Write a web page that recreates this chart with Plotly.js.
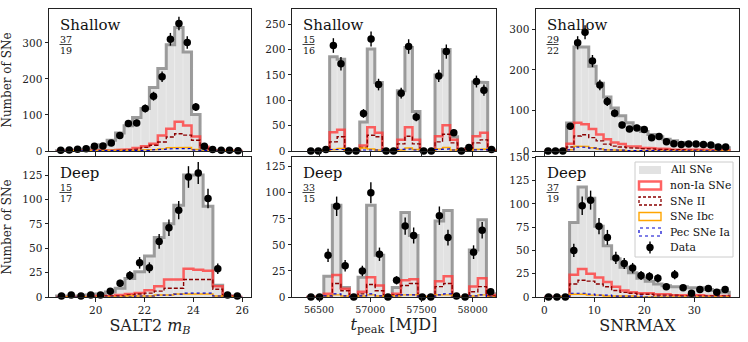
<!DOCTYPE html>
<html>
<head>
<meta charset="utf-8">
<script src="https://cdn.plot.ly/plotly-3.0.1.min.js"></script>
<style>
  html, body { margin: 0; padding: 0; background: #fff; }
  #chart { width: 748px; height: 342px; }
</style>
</head>
<body>
<div id="chart"></div>
<script>
// ---- SALT2 mB, shallow ----
var mbShallowX = [18.57, 18.92, 19.26, 19.61, 19.95, 20.30, 20.64, 20.99, 21.34, 21.68, 22.03, 22.37, 22.72, 23.06, 23.41, 23.75, 24.10, 24.45, 24.79, 25.14, 25.48, 25.83]
var mbShallowAll = [1, 2, 3, 5, 8, 17, 30, 50, 70, 93, 118, 176, 229, 295, 343, 275, 101, 5, 1, 0, 0, 0]
var mbShallowNonIa = [0, 0, 0, 0, 1, 1, 2, 3, 5, 8, 13, 20, 43, 62, 81, 71, 40, 12, 2, 0, 0, 0]
var mbShallowII = [0, 0, 0, 0, 1, 1, 1, 2, 3, 5, 10, 16, 25, 39, 48, 44, 30, 8, 1, 0, 0, 0]
var mbShallowIbc = [0, 0, 0, 0, 0, 0, 0, 1, 1, 2, 3, 4, 6, 9, 11, 10, 4, 1, 0, 0, 0, 0]
var mbShallowPec = [0, 0, 0, 0, 0, 0, 0, 0, 1, 1, 2, 3, 5, 6, 7, 7, 3, 1, 0, 0, 0, 0]
var mbShallowData = [2, 3, 5, 6, 13, 14, 22, 43, 76, 78, 118, 152, 206, 310, 354, 301, 122, 13, 4, 2, 2, 1]

// ---- SALT2 mB, deep ----
var mbDeepX = [18.6, 19.0, 19.4, 19.8, 20.2, 20.6, 21.0, 21.4, 21.8, 22.2, 22.6, 23.0, 23.4, 23.8, 24.2, 24.6, 25.0, 25.4, 25.8]
var mbDeepAll = [1, 1, 1, 2, 3, 5, 9, 19, 26, 42, 61, 75, 94, 125, 125, 93, 12, 1, 0]
var mbDeepNonIa = [0, 0, 0, 0, 1, 1, 2, 3, 4, 7, 11, 18, 18, 29, 28, 27, 11, 1, 0]
var mbDeepII = [0, 0, 0, 0, 0, 1, 1, 2, 3, 4, 6, 9, 9, 18, 18, 18, 8, 1, 0]
var mbDeepIbc = [0, 0, 0, 0, 0, 0, 0, 1, 1, 1, 2, 2, 3, 3, 3, 3, 1, 0, 0]
var mbDeepPec = [0, 0, 0, 0, 0, 0, 0, 0, 1, 1, 2, 2, 3, 4, 4, 4, 1, 0, 0]
var mbDeepData = [1, 2, 1, 2, 2, 6, 14, 22, 35, 30, 57, 71, 89, 123, 127, 101, 29, 2, 1]

// ---- t_peak, shallow ----
var tpShallowX = [56420, 56493, 56567, 56640, 56714, 56787, 56861, 56934, 57008, 57081, 57155, 57228, 57302, 57375, 57449, 57522, 57596, 57669, 57743, 57816, 57890, 57963, 58037, 58110, 58184]
var tpShallowAll = [0, 0, 0, 186, 181, 0, 0, 57, 201, 135, 0, 0, 119, 204, 78, 0, 0, 150, 200, 28, 0, 5, 136, 135, 2]
var tpShallowNonIa = [0, 0, 0, 37, 42, 0, 0, 11, 47, 36, 0, 0, 22, 47, 22, 0, 0, 29, 51, 22, 0, 4, 29, 36, 1]
var tpShallowII = [0, 0, 0, 18, 28, 0, 0, 7, 31, 28, 0, 0, 14, 29, 14, 0, 0, 18, 33, 16, 0, 2, 16, 22, 1]
var tpShallowIbc = [0, 0, 0, 3, 5, 0, 0, 6, 4, 2, 0, 0, 2, 6, 3, 0, 0, 4, 7, 2, 0, 0, 3, 4, 0]
var tpShallowPec = [0, 0, 0, 3, 3, 0, 0, 2, 3, 2, 0, 0, 3, 4, 2, 0, 0, 3, 4, 2, 0, 0, 2, 3, 0]
var tpShallowData = [0, 0, 3, 208, 172, 0, 0, 74, 221, 131, 0, 0, 114, 206, 67, 0, 0, 148, 196, 36, 0, 7, 137, 120, 3]

// ---- t_peak, deep ----
var tpDeepX = [56421, 56505, 56588, 56672, 56755, 56839, 56923, 57006, 57090, 57173, 57257, 57341, 57424, 57508, 57591, 57675, 57759, 57842, 57926, 58009, 58093, 58176]
var tpDeepAll = [0, 0, 20, 88, 9, 0, 19, 88, 40, 0, 9, 81, 59, 0, 0, 73, 83, 0, 0, 45, 74, 3]
var tpDeepNonIa = [0, 0, 3, 21, 8, 0, 5, 19, 11, 0, 3, 16, 17, 0, 0, 15, 20, 0, 0, 10, 18, 2]
var tpDeepII = [0, 0, 1, 13, 6, 0, 3, 12, 6, 0, 2, 11, 13, 0, 0, 10, 13, 0, 0, 5, 10, 1]
var tpDeepIbc = [0, 0, 1, 2, 1, 0, 1, 2, 1, 0, 1, 2, 2, 0, 0, 2, 2, 0, 0, 1, 2, 0]
var tpDeepPec = [0, 0, 1, 3, 1, 0, 1, 3, 1, 0, 1, 2, 2, 0, 0, 2, 3, 0, 0, 1, 2, 0]
var tpDeepData = [0, 0, 40, 87, 30, 0, 25, 100, 41, 0, 16, 68, 59, 0, 0, 78, 57, 1, 0, 43, 64, 5]

// ---- SNRMAX, shallow ----
var snrShallowX = [0.74, 2.22, 3.70, 5.18, 6.66, 8.14, 9.62, 11.10, 12.58, 14.06, 15.54, 17.02, 18.50, 19.98, 21.46, 22.94, 24.42, 25.90, 27.38, 28.86, 30.34, 31.82, 33.30, 34.78, 36.26]
var snrShallowAll = [0, 0, 2, 69, 257, 257, 209, 167, 133, 106, 87, 70, 58, 48, 41, 35, 29, 25, 21, 18, 17, 15, 14, 10, 8]
var snrShallowNonIa = [0, 0, 0, 18, 70, 66, 54, 41, 29, 21, 17, 12, 11, 8, 7, 6, 5, 4, 4, 3, 3, 3, 2, 2, 2]
var snrShallowII = [0, 0, 0, 10, 37, 40, 33, 25, 17, 12, 10, 8, 7, 6, 5, 4, 4, 3, 3, 2, 2, 2, 1, 1, 1]
var snrShallowIbc = [0, 0, 0, 3, 12, 11, 8, 5, 3, 2, 2, 1, 1, 1, 1, 1, 0, 0, 0, 0, 0, 0, 0, 0, 0]
var snrShallowPec = [0, 0, 0, 3, 10, 9, 7, 5, 3, 2, 2, 1, 1, 1, 1, 1, 1, 0, 0, 0, 0, 0, 0, 0, 0]
var snrShallowData = [0, 0, 0, 61, 267, 293, 222, 163, 122, 93, 64, 54, 57, 53, 33, 36, 23, 18, 16, 17, 17, 16, 15, 10, 10]

// ---- SNRMAX, deep ----
var snrDeepX = [0.84, 2.52, 4.20, 5.89, 7.57, 9.25, 10.93, 12.61, 14.30, 15.98, 17.66, 19.34, 21.02, 22.70, 24.39, 26.07, 27.75, 29.43, 31.11, 32.80, 34.48, 36.16]
var snrDeepAll = [0, 0, 0, 80, 118, 106, 76, 55, 41, 32, 26, 20, 17, 14, 12, 11, 11, 10, 10, 8, 7, 5]
var snrDeepNonIa = [0, 0, 0, 24, 30, 25, 21, 16, 11, 7, 5, 4, 4, 3, 3, 2, 2, 2, 2, 1, 1, 1]
var snrDeepII = [0, 0, 0, 14, 18, 17, 14, 11, 7, 5, 4, 3, 3, 2, 2, 2, 1, 1, 1, 1, 1, 1]
var snrDeepIbc = [0, 0, 0, 3, 3, 2, 2, 1, 1, 1, 1, 0, 0, 0, 0, 0, 0, 0, 0, 0, 0, 0]
var snrDeepPec = [0, 0, 0, 4, 4, 3, 2, 2, 1, 1, 1, 1, 0, 0, 0, 0, 0, 0, 0, 0, 0, 0]
var snrDeepData = [0, 0, 0, 50, 98, 104, 76, 64, 42, 36, 31, 23, 22, 20, 11, 24, 10, 4, 8, 9, 5, 8]

// panel labels
var panelNames = ['Shallow', 'Deep', 'Shallow', 'Deep', 'Shallow', 'Deep']
var fracNum = ['37', '15', '15', '33', '29', '37']
var fracDen = ['19', '17', '16', '15', '22', '19']
var legendNames = ['All SNe', 'non-Ia SNe', 'SNe II', 'SNe Ibc', 'Pec SNe Ia', 'Data']

var FONT = 'DejaVu Serif, Liberation Serif, serif'
var W = 748, H = 342
function px (x) { return x / W }
function py (y) { return 1 - y / H }

// panel frames in pixels
var colLeft = [49, 292, 536]
var colRight = [251, 496, 739]
var rowTop = [9, 157]
var rowBottom = [151, 297]

function edgesOf (c) {
  var e = []
  for (var i = 0; i < c.length - 1; i++) e.push((c[i] + c[i + 1]) / 2)
  var first = c[0] - (e[0] - c[0])
  var last = c[c.length - 1] + (c[c.length - 1] - e[e.length - 1])
  return [first].concat(e, [last])
}
function stepXY (c, v) {
  var e = edgesOf(c)
  var x = [e[0]], y = [0]
  for (var i = 0; i < v.length; i++) {
    x.push(e[i], e[i + 1])
    y.push(v[i], v[i])
  }
  x.push(e[e.length - 1]); y.push(0)
  return { x: x, y: y }
}

var panels = [
  { xa: 'x', ya: 'y', c: mbShallowX, all: mbShallowAll, nonIa: mbShallowNonIa, ii: mbShallowII, ibc: mbShallowIbc, pec: mbShallowPec, data: mbShallowData },
  { xa: 'x2', ya: 'y2', c: mbDeepX, all: mbDeepAll, nonIa: mbDeepNonIa, ii: mbDeepII, ibc: mbDeepIbc, pec: mbDeepPec, data: mbDeepData },
  { xa: 'x3', ya: 'y3', c: tpShallowX, all: tpShallowAll, nonIa: tpShallowNonIa, ii: tpShallowII, ibc: tpShallowIbc, pec: tpShallowPec, data: tpShallowData },
  { xa: 'x4', ya: 'y4', c: tpDeepX, all: tpDeepAll, nonIa: tpDeepNonIa, ii: tpDeepII, ibc: tpDeepIbc, pec: tpDeepPec, data: tpDeepData },
  { xa: 'x5', ya: 'y5', c: snrShallowX, all: snrShallowAll, nonIa: snrShallowNonIa, ii: snrShallowII, ibc: snrShallowIbc, pec: snrShallowPec, data: snrShallowData },
  { xa: 'x6', ya: 'y6', c: snrDeepX, all: snrDeepAll, nonIa: snrDeepNonIa, ii: snrDeepII, ibc: snrDeepIbc, pec: snrDeepPec, data: snrDeepData }
]

var styles = {
  all: { color: 'rgba(140,140,140,0.85)', width: 3 },
  nonIa: { color: 'rgba(255,60,60,0.8)', width: 2.5 },
  ii: { color: '#8b0000', width: 1.4, dash: '4px,2px' },
  ibc: { color: '#ffa500', width: 1.4 },
  pec: { color: '#0000cd', width: 1.2, dash: 'dot' }
}

var data = []
panels.forEach(function (p) {
  var e = edgesOf(p.c)
  var widths = p.c.map(function (_, i) { return e[i + 1] - e[i] })
  data.push({
    type: 'bar', x: p.c, y: p.all, width: widths, xaxis: p.xa, yaxis: p.ya,
    marker: { color: '#e2e2e2', line: { color: '#ececec', width: 0.6 } },
    showlegend: false, hoverinfo: 'skip'
  })
  ;['all', 'nonIa', 'ii', 'ibc', 'pec'].forEach(function (k) {
    var s = stepXY(p.c, p[k])
    data.push({
      type: 'scatter', mode: 'lines', x: s.x, y: s.y, xaxis: p.xa, yaxis: p.ya,
      line: styles[k], showlegend: false, hoverinfo: 'skip'
    })
  })
  data.push({
    type: 'scatter', mode: 'markers', x: p.c, y: p.data, xaxis: p.xa, yaxis: p.ya,
    marker: { color: 'black', size: 7.5 },
    error_y: { type: 'sqrt', color: 'black', thickness: 1.4, width: 0 },
    cliponaxis: false, showlegend: false
  })
})

function axisBase () {
  return {
    showline: true, mirror: true, linecolor: '#222', linewidth: 1,
    ticks: 'outside', ticklen: 3.5, tickwidth: 1, tickcolor: '#222',
    showgrid: false, zeroline: false, automargin: false,
    tickformat: 'd',
    tickfont: { family: FONT, size: 10.5, color: '#222' }
  }
}
function xAxis (col, row, range, tickvals, title, tickSize) {
  var a = axisBase()
  a.domain = [px(colLeft[col]), px(colRight[col])]
  a.range = range
  a.tickvals = tickvals
  a.anchor = 'y' + (col * 2 + row + 1 === 1 ? '' : col * 2 + row + 1)
  if (row === 0) a.showticklabels = false
  else {
    a.title = { text: title, font: { family: FONT, size: 16, color: '#222' }, standoff: 4 }
    if (tickSize) a.tickfont.size = tickSize
  }
  return a
}
function yAxis (col, row, range, dtick, showTitle) {
  var a = axisBase()
  a.domain = [py(rowBottom[row]), py(rowTop[row])]
  a.range = range
  a.dtick = dtick
  a.anchor = 'x' + (col * 2 + row + 1 === 1 ? '' : col * 2 + row + 1)
  if (showTitle) a.title = { text: 'Number of SNe', font: { family: FONT, size: 12, color: '#222' }, standoff: 8 }
  return a
}

var mbTicks = [20, 22, 24, 26]
var tpTicks = [56500, 57000, 57500, 58000]
var snrTicks = [0, 10, 20, 30]
var mbTitle = 'SALT2 <i>m</i><sub><i>B</i></sub>'
var tpTitle = '<i>t</i><sub>peak</sub> [MJD]'
var snrTitle = 'SNRMAX'

var annotations = []
var shapes = []
for (var i = 0; i < 6; i++) {
  var col = Math.floor(i / 2), row = i % 2
  var L = colLeft[col], T = rowTop[row]
  annotations.push({
    xref: 'paper', yref: 'paper', x: px(L + 9), y: py(T + 15.5), xanchor: 'left', yanchor: 'middle',
    text: panelNames[i], showarrow: false, font: { family: FONT, size: 15, color: '#111' }
  })
  annotations.push({
    xref: 'paper', yref: 'paper', x: px(L + 16.5), y: py(T + 30), xanchor: 'center', yanchor: 'middle',
    text: fracNum[i], showarrow: false, font: { family: FONT, size: 9.5, color: '#111' }
  })
  annotations.push({
    xref: 'paper', yref: 'paper', x: px(L + 16.5), y: py(T + 41.5), xanchor: 'center', yanchor: 'middle',
    text: fracDen[i], showarrow: false, font: { family: FONT, size: 9.5, color: '#111' }
  })
  shapes.push({
    type: 'line', xref: 'paper', yref: 'paper', x0: px(L + 10.5), x1: px(L + 22.5),
    y0: py(T + 35.5), y1: py(T + 35.5), line: { color: '#111', width: 0.8 }
  })
}

// legend box (bottom-right panel)
shapes.push({
  type: 'rect', xref: 'paper', yref: 'paper', layer: 'above',
  x0: px(635), x1: px(733), y0: py(257), y1: py(162),
  fillcolor: 'rgba(255,255,255,0.85)', line: { color: '#cccccc', width: 1 }
})
var rowY = [170, 185.5, 201, 216.5, 232, 247.5]
var symStyles = [
  { fillcolor: '#e2e2e2', line: { width: 0 } },
  { fillcolor: 'rgba(0,0,0,0)', line: styles.nonIa },
  { fillcolor: 'rgba(0,0,0,0)', line: { color: '#8b0000', width: 1.3, dash: '3px,2px' } },
  { fillcolor: 'rgba(0,0,0,0)', line: styles.ibc },
  { fillcolor: 'rgba(0,0,0,0)', line: { color: '#0000cd', width: 1.2, dash: 'dot' } }
]
for (var j = 0; j < 6; j++) {
  if (j < 5) {
    shapes.push({
      type: 'rect', xref: 'paper', yref: 'paper', layer: 'above',
      x0: px(639), x1: px(661), y0: py(rowY[j] + 4), y1: py(rowY[j] - 4),
      fillcolor: symStyles[j].fillcolor, line: symStyles[j].line
    })
  } else {
    shapes.push({
      type: 'line', xref: 'paper', yref: 'paper', layer: 'above',
      x0: px(650), x1: px(650), y0: py(rowY[j] + 6), y1: py(rowY[j] - 6),
      line: { color: 'black', width: 1.4 }
    })
    shapes.push({
      type: 'circle', xref: 'paper', yref: 'paper', layer: 'above',
      x0: px(646.3), x1: px(653.7), y0: py(rowY[j] + 3.7), y1: py(rowY[j] - 3.7),
      fillcolor: 'black', line: { color: 'black', width: 0 }
    })
  }
  annotations.push({
    xref: 'paper', yref: 'paper', x: px(668), y: py(rowY[j]), xanchor: 'left', yanchor: 'middle',
    text: legendNames[j], showarrow: false, font: { family: FONT, size: 10.8, color: '#111' }
  })
}

var layout = {
  width: W, height: H,
  margin: { l: 0, r: 0, t: 0, b: 0 },
  paper_bgcolor: 'white', plot_bgcolor: 'white',
  font: { family: FONT, color: '#222' },
  barmode: 'overlay', bargap: 0,
  showlegend: false,
  xaxis: xAxis(0, 0, [18.09, 26.36], mbTicks),
  xaxis2: xAxis(0, 1, [18.09, 26.36], mbTicks, mbTitle),
  xaxis3: xAxis(1, 0, [56236, 58228], tpTicks),
  xaxis4: xAxis(1, 1, [56236, 58228], tpTicks, tpTitle, 9.5),
  xaxis5: xAxis(2, 0, [-1.67, 38.93], snrTicks),
  xaxis6: xAxis(2, 1, [-1.67, 38.93], snrTicks, snrTitle),
  yaxis: yAxis(0, 0, [0, 394], 100, true),
  yaxis2: yAxis(0, 1, [0, 143.5], 25, true),
  yaxis3: yAxis(1, 0, [0, 280], 50),
  yaxis4: yAxis(1, 1, [0, 134.3], 25),
  yaxis5: yAxis(2, 0, [0, 350.5], 100),
  yaxis6: yAxis(2, 1, [0, 150.3], 25),
  annotations: annotations,
  shapes: shapes
}

Plotly.newPlot('chart', data, layout, { displayModeBar: false, staticPlot: true })
</script>
</body>
</html>
